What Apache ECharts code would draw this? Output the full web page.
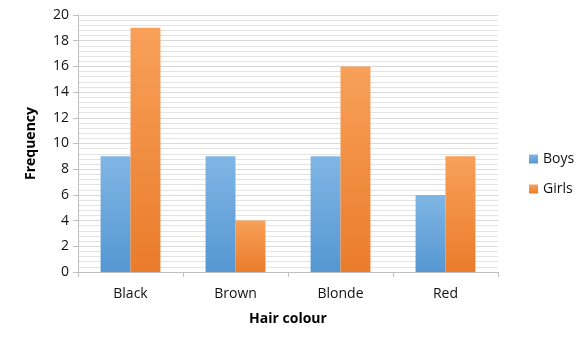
<!DOCTYPE html>
<html><head><meta charset="utf-8">
<script src="https://cdn.jsdelivr.net/npm/echarts@6/dist/echarts.min.js"></script>
<style>html,body{margin:0;padding:0;background:#fff}#c{width:588px;height:345px}</style>
</head><body><div id="c"></div>
<script>
var categories = ['Black', 'Brown', 'Blonde', 'Red'];
var boys = [9, 9, 9, 6];
var girls = [19, 4, 16, 9];
var yTicks = {min: 0, max: 20, interval: 2};
var font = "'Open Sans', 'Liberation Sans', sans-serif";

function grad(top, bottom) {
  return new echarts.graphic.LinearGradient(0, 0, 0, 1, [{offset: 0, color: top}, {offset: 1, color: bottom}]);
}
var chart = echarts.init(document.getElementById('c'));
chart.setOption({
  animation: false,
  textStyle: {fontFamily: font},
  grid: {left: 78, right: 90, top: 15, bottom: 73, containLabel: false},
  legend: {
    orient: 'vertical', left: 524, top: 147, itemGap: 16,
    itemWidth: 9, itemHeight: 9, icon: 'rect',
    textStyle: {fontFamily: font, fontSize: 14, color: '#111'},
    data: ['Boys', 'Girls']
  },
  xAxis: {
    type: 'category', data: categories,
    name: 'Hair colour', nameLocation: 'middle', nameGap: 40,
    nameTextStyle: {fontFamily: font, fontSize: 14, fontWeight: 'bold', color: '#000'},
    axisLine: {lineStyle: {color: '#bfbfbf'}},
    axisTick: {show: true, length: 5, lineStyle: {color: '#bfbfbf'}, alignWithLabel: false},
    axisLabel: {fontFamily: font, fontSize: 14, color: '#111', margin: 15}
  },
  yAxis: {
    type: 'value', min: yTicks.min, max: yTicks.max, interval: yTicks.interval,
    name: 'Frequency', nameLocation: 'middle', nameGap: 40, nameRotate: 90,
    nameTextStyle: {fontFamily: font, fontSize: 14, fontWeight: 'bold', color: '#000'},
    axisLine: {show: true, lineStyle: {color: '#bfbfbf'}},
    axisTick: {show: true, length: 5, lineStyle: {color: '#bfbfbf'}},
    axisLabel: {fontFamily: font, fontSize: 14, color: '#111', margin: 9},
    splitLine: {show: true, lineStyle: {color: '#d9d9d9'}},
    minorTick: {show: false, splitNumber: 5},
    minorSplitLine: {show: true, lineStyle: {color: '#e3e3e3'}}
  },
  series: [
    {name: 'Boys', type: 'bar', data: boys, barGap: '0%', barCategoryGap: '43%',
     itemStyle: {color: grad('#80b6e5', '#5597d2')}},
    {name: 'Girls', type: 'bar', data: girls,
     itemStyle: {color: grad('#f8a059', '#ea7c2b')}}
  ]
});
</script></body></html>
